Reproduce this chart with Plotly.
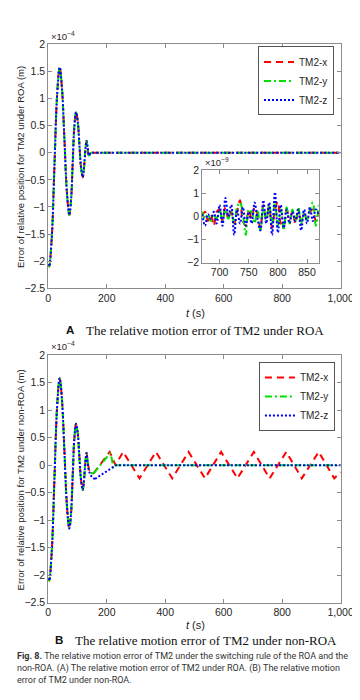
import plotly.graph_objects as go

# ---------------- data (errors in units of 1e-4 m) ----------------
# shared damped transient
t_head = [0, 3, 12, 21, 30, 39, 47, 55.5, 64, 72, 78, 83.5, 89, 95, 101, 106.5, 112, 118, 121, 124.5, 128, 131]
e_head = [-2.05, -2.1, -1.56, -0.26, 1.04, 1.58, 1.18, 0.215, -0.75, -1.15, -0.87, -0.2, 0.47, 0.75, 0.57, 0.15, -0.27, -0.45, -0.35, -0.12, 0.12, 0.22]

# panel A: all three settle to zero
t_endA = [135, 139, 146, 160, 1000]
e_endA = [0.08, -0.05, 0.0, 0.0, 0.0]

# panel B: end of transient (smooth) then tails (piecewise linear)
t_endB_xy = [135, 140, 147, 155]
e_endB_xy = [0.05, -0.08, -0.14, -0.15]
t_endB_z = [135, 140, 150, 160]
e_endB_z = [0.03, -0.12, -0.22, -0.25]

t_tailB_x = [155, 210, 230, 256, 312, 368, 424, 480, 536, 591, 647, 703, 757, 814, 867, 925, 978, 1000]
e_tailB_x = [-0.15, 0.24, 0.0, 0.24, -0.24, 0.24, -0.24, 0.24, -0.24, 0.24, -0.24, 0.24, -0.24, 0.24, -0.24, 0.24, -0.24, -0.13]
t_tailB_y = [155, 212, 218, 222, 230, 1000]
e_tailB_y = [-0.15, 0.22, 0.1, -0.06, 0.0, 0.0]
t_tailB_z = [160, 228, 232, 1000]
e_tailB_z = [-0.25, -0.02, 0.0, 0.0]

# inset (units of 1e-9 m)
t_in = [670, 675, 680, 685, 690, 695, 700, 705, 710, 715, 720, 725, 730, 735, 740, 745, 750, 755, 760, 765,
        770, 775, 780, 785, 790, 795, 800, 805, 810, 815, 820, 825, 830, 835, 840, 845, 850, 855, 860, 865, 870]
in_x = [0.0, 0.2, -0.2, 0.1, -0.4, 0.2, 0.3, -0.2, 0.4, -0.1, 0.2, -0.3, 0.2, 0.7, -0.2, -0.4, 0.3, -0.1, 0.4, 0.1,
        -0.5, 0.5, -0.1, 0.4, -0.5, 0.3, 0.65, -0.3, -0.4, 0.3, -0.1, 0.2, -0.3, 0.2, -0.2, 0.1, -0.1, 0.2, 0.3, -0.2, 0.2]
in_y = [0.2, -0.1, 0.1, -0.2, 0.1, -0.1, 0.3, -0.2, 0.3, -0.1, 0.2, -0.3, 0.4, 0.6, 0.1, -0.8, 0.3, 0.2, -0.3, 0.3,
        -0.6, 0.4, -0.2, 0.5, -0.3, 0.6, -0.4, 0.3, -0.6, 0.4, -0.3, 0.3, -0.2, 0.4, -0.3, 0.2, -0.2, 0.3, 0.6, -0.4, 0.5]
in_z = [0.1, -0.4, 0.1, -0.1, 0.2, -0.3, 0.5, -0.4, 0.8, 0.0, 0.5, -0.8, 0.3, -0.3, 0.4, -0.4, 0.2, -0.3, 0.6, -0.1,
        -0.6, 0.7, -0.3, 0.6, -0.8, 1.05, -0.7, 0.5, -0.5, 0.3, -0.3, 0.2, -0.2, 0.3, -0.6, 0.3, -0.3, 0.4, -0.2, 0.3, 0.1]

series_names = ["TM2-x", "TM2-y", "TM2-z"]
x_ticks = [0, 200, 400, 600, 800, 1000]
x_ticktext = ["0", "200", "400", "600", "800", "1,000"]
y_ticks = [-2.5, -2, -1.5, -1, -0.5, 0, 0.5, 1, 1.5, 2]
y_ticktext = ["\u22122.5", "\u22122", "\u22121.5", "\u22121", "\u22120.5", "0", "0.5", "1", "1.5", "2"]
in_x_ticks = [700, 750, 800, 850]
in_y_ticks = [-2, -1, 0, 1, 2]
in_y_ticktext = ["\u22122", "\u22121", "0", "1", "2"]

# ---------------- styles ----------------
COLORS = ["#ff0000", "#00e000", "#0000ff"]
DASHES = ["7px,5px", "7px,3px,2px,3px", "2px,2px"]

FIG_W, FIG_H = 360, 700
def px_x(p):
    return p / FIG_W
def px_y(p):
    return 1 - p / FIG_H

fig = go.Figure()

# panel A
for i, name in enumerate(series_names):
    fig.add_trace(go.Scatter(
        x=t_head + t_endA, y=e_head + e_endA, mode="lines", name=name,
        line=dict(color=COLORS[i], dash=DASHES[i], width=2, shape="spline", smoothing=1),
        xaxis="x", yaxis="y", legend="legend"))

# inset
for i, ys in enumerate([in_x, in_y, in_z]):
    fig.add_trace(go.Scatter(
        x=t_in, y=ys, mode="lines", showlegend=False,
        line=dict(color=COLORS[i], dash=DASHES[i], width=2, shape="spline", smoothing=1),
        xaxis="x2", yaxis="y2"))

# panel B
heads = [(t_head + t_endB_xy, e_head + e_endB_xy),
         (t_head + t_endB_xy, e_head + e_endB_xy),
         (t_head + t_endB_z, e_head + e_endB_z)]
tails = [(t_tailB_x, e_tailB_x), (t_tailB_y, e_tailB_y), (t_tailB_z, e_tailB_z)]
for i, name in enumerate(series_names):
    fig.add_trace(go.Scatter(
        x=heads[i][0], y=heads[i][1], mode="lines", name=name, showlegend=False,
        line=dict(color=COLORS[i], dash=DASHES[i], width=2, shape="spline", smoothing=1),
        xaxis="x3", yaxis="y3", legendgroup="b" + name))
for i, name in enumerate(series_names):
    fig.add_trace(go.Scatter(
        x=tails[i][0], y=tails[i][1], mode="lines", name=name,
        line=dict(color=COLORS[i], dash=DASHES[i], width=2),
        xaxis="x3", yaxis="y3", legend="legend2", legendgroup="b" + name))

TICKFONT = dict(family="Liberation Sans, Arial, sans-serif", size=10.5, color="#262626")
AXLINE = "#8c8c8c"

def ax(domain, anchor, rng, tv, tt):
    return dict(domain=domain, anchor=anchor, range=rng, tickvals=tv, ticktext=tt,
                ticks="inside", ticklen=4, tickcolor=AXLINE, showline=True, linecolor=AXLINE,
                linewidth=1, mirror="ticks", showgrid=False, zeroline=False, tickfont=TICKFONT)

xd = [px_x(39), px_x(345)]
LEGFONT = dict(family="Liberation Sans, Arial, sans-serif", size=10, color="#262626")
fig.update_layout(
    width=FIG_W, height=FIG_H, margin=dict(l=0, r=0, t=0, b=0),
    paper_bgcolor="white", plot_bgcolor="white", showlegend=True,
    xaxis=ax(xd, "y", [0, 1000], x_ticks, x_ticktext),
    yaxis=ax([px_y(279), px_y(31)], "x", [-2.5, 2], y_ticks, y_ticktext),
    xaxis2=ax([px_x(200), px_x(322)], "y2", [670, 870], in_x_ticks, [str(v) for v in in_x_ticks]),
    yaxis2=ax([px_y(253), px_y(159)], "x2", [-2, 2], in_y_ticks, in_y_ticktext),
    xaxis3=ax(xd, "y3", [0, 1000], x_ticks, x_ticktext),
    yaxis3=ax([px_y(599), px_y(347)], "x3", [-2.5, 2], y_ticks, y_ticktext),
    legend=dict(x=px_x(338), y=px_y(33), xanchor="right", yanchor="top",
                bgcolor="white", bordercolor="#555555", borderwidth=1,
                font=LEGFONT, itemwidth=30, tracegroupgap=0),
    legend2=dict(x=px_x(339), y=px_y(354), xanchor="right", yanchor="top",
                 bgcolor="white", bordercolor="#555555", borderwidth=1,
                 font=LEGFONT, itemwidth=30, tracegroupgap=0),
)

SANS = "Liberation Sans, Arial, sans-serif"
SERIF = "Liberation Serif, Times New Roman, serif"
CAPF = "Roboto, sans-serif"
ann = []
def A(x, y, text, size=10.5, family=SANS, color="#262626", xanchor="center", yanchor="middle", angle=0):
    ann.append(dict(x=px_x(x), y=px_y(y), xref="paper", yref="paper", text=text, showarrow=False,
                    xanchor=xanchor, yanchor=yanchor, textangle=angle,
                    font=dict(family=family, size=size, color=color)))

# exponent labels
A(40, 22, "\u00d710<sup>\u22124</sup>", size=9.5, xanchor="left")
A(40, 338, "\u00d710<sup>\u22124</sup>", size=9.5, xanchor="left")
A(201, 151, "\u00d710<sup>\u22129</sup>", size=9.5, xanchor="left")
# y titles
A(10, 156, "Error of relative position for TM2 under ROA (m)", size=9.5, angle=-90)
A(10, 474, "Error of relative position for TM2 under non-ROA (m)", size=9.5, angle=-90)
# x titles
A(193, 304, "<i>t</i> (s)", size=11)
A(193, 622, "<i>t</i> (s)", size=11)
# panel captions
A(62, 322, "<b>A</b>", size=11.5, color="#111111")
A(76, 322, "The relative motion error of TM2 under ROA", size=13, family=SERIF, color="#111111", xanchor="left")
A(50, 637, "<b>B</b>", size=11.5, color="#111111")
A(65, 637, "The relative motion error of TM2 under non-ROA", size=13, family=SERIF, color="#111111", xanchor="left")
# figure caption
A(4, 653, "<b>Fig. 8.</b> The relative motion error of TM2 under the switching rule of the ROA and the",
  size=9, family=CAPF, color="#333333", xanchor="left")
A(4, 666, "non-ROA. (A) The relative motion error of TM2 under ROA. (B) The relative motion",
  size=9, family=CAPF, color="#333333", xanchor="left")
A(4, 678, "error of TM2 under non-ROA.", size=9, family=CAPF, color="#333333", xanchor="left")

fig.update_layout(annotations=ann)
fig.write_html("out.html")
